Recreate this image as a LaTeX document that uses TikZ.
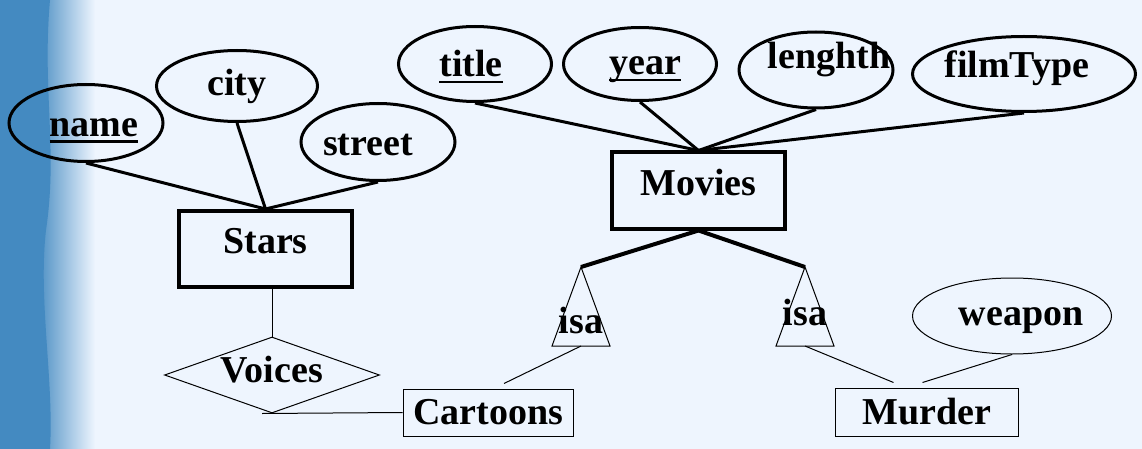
\documentclass[tikz,border=0pt]{standalone}
\usepackage{fontspec}
\setmainfont{Liberation Serif}
\usetikzlibrary{shapes.geometric}
\definecolor{slidebg}{RGB}{238,245,254}
\definecolor{bandblue}{RGB}{68,138,193}
\newsavebox{\keybox}
\newcommand{\keyattr}[1]{\sbox{\keybox}{#1}\rlap{\rule[-6.5pt]{\wd\keybox}{2.4pt}}\usebox{\keybox}}

\tikzset{
  attr/.style={ellipse, draw, line width=3pt, inner sep=0pt},
  entity/.style={rectangle, draw, line width=4pt, inner sep=0pt, minimum width=173pt, minimum height=76pt, text height=27pt, text depth=18pt},
  subent/.style={rectangle, draw, line width=1pt, inner sep=0pt},
  rel/.style={diamond, draw, line width=1pt, inner sep=0pt, aspect=2.8},
  link/.style={line width=3pt},
  thinlink/.style={line width=1pt},
}

\begin{document}
\begin{tikzpicture}[x=1pt, y=-1pt, font=\fontsize{38}{44}\selectfont\bfseries]
    \useasboundingbox (0,0) rectangle (1142,449);
    % slide background
    \fill[slidebg] (0,0) rectangle (1142,449);
    \shade[left color=bandblue, right color=slidebg] (35,0) rectangle (95,449);
    \fill[bandblue] (0,0) -- (50,0) .. controls (42,90) and (58,150) .. (46,230) .. controls (38,300) and (54,380) .. (50,449) -- (0,449) -- cycle;

    % entities
    \node[entity] (Stars) at (265.5,249) {Stars};
    \node[entity] (Movies) at (698.5,190.5) {Movies};
    \node[subent, minimum width=170pt, minimum height=47pt] (Cartoons) at (488,412.5) {Cartoons};
    \node[subent, minimum width=183pt, minimum height=48pt] (Murder) at (926.5,412) {Murder};

    % attributes of Stars
    \node[attr, minimum width=154pt, minimum height=77pt, label={[xshift=8pt, yshift=-7.5pt]center:\keyattr{name}}] (name) at (86,123) {};
    \node[attr, minimum width=161pt, minimum height=71pt, label={[yshift=0pt]center:city}] (city) at (237,86) {};
    \node[attr, minimum width=154pt, minimum height=77pt, label={[xshift=-10pt, yshift=-3pt]center:street}] (street) at (378,142) {};

    % attributes of Movies
    \node[attr, minimum width=153pt, minimum height=75pt, label={[xshift=-4pt, yshift=-3pt]center:\keyattr{title}}] (title) at (475,64) {};
    \node[attr, minimum width=153pt, minimum height=73pt, label={[xshift=5pt, yshift=-6pt]center:\keyattr{year}}] (year) at (640,64) {};
    \node[attr, minimum width=154pt, minimum height=76pt, label={[xshift=13pt, yshift=10pt]center:lenghth}] (lenghth) at (816,70) {};
    \node[attr, minimum width=223pt, minimum height=75pt, label={[xshift=-7pt, yshift=5.5pt]center:filmType}] (filmType) at (1024,74) {};

    % attribute of Murder
    \node[ellipse, draw, line width=1pt, minimum width=199pt, minimum height=76pt, label={[xshift=9pt, yshift=-4.5pt]center:weapon}] (weapon) at (1012,316) {};

    % relationship
    \node[rel, minimum width=215pt, minimum height=76pt, text height=22pt, text depth=8pt] (Voices) at (272,375) {Voices};

    % isa triangles
    \coordinate (isaL) at (581,267);
    \coordinate (isaLb) at (581,346);
    \coordinate (isaR) at (805,267);
    \coordinate (isaRb) at (805,346);
    \draw[thinlink] (isaL) -- ++(-29,79) -- ++(58,0) -- cycle;
    \draw[thinlink] (isaR) -- ++(-29,79) -- ++(58,0) -- cycle;
    \node (isaLt) at (581,321) {isa};
    \node (isaRt) at (805,313) {isa};

    % connectors
    \draw[link] (name.south) -- (Stars.north);
    \draw[link] (city.south) -- (Stars.north);
    \draw[link] (street.south) -- (Stars.north);
    \draw[link] (title.south) -- (Movies.north);
    \draw[link] (year.south) -- (Movies.north);
    \draw[link] (lenghth.south) -- (Movies.north);
    \draw[link] (filmType.south) -- (Movies.north);
    \draw[line width=4pt] (isaL) -- (Movies.south) -- (isaR);
    \draw[thinlink] (Voices.north |- Stars.south) -- (Voices.north);
    \draw[thinlink] ([xshift=-10pt]Voices.south) -- (Cartoons.west);
    \draw[thinlink] (isaLb) -- ([xshift=16pt, yshift=5pt]Cartoons.north);
    \draw[thinlink] (isaRb) -- ([xshift=-33pt, yshift=5pt]Murder.north);
    \draw[thinlink] (weapon.south) -- ([xshift=-4pt, yshift=5pt]Murder.north);
\end{tikzpicture}
\end{document}
